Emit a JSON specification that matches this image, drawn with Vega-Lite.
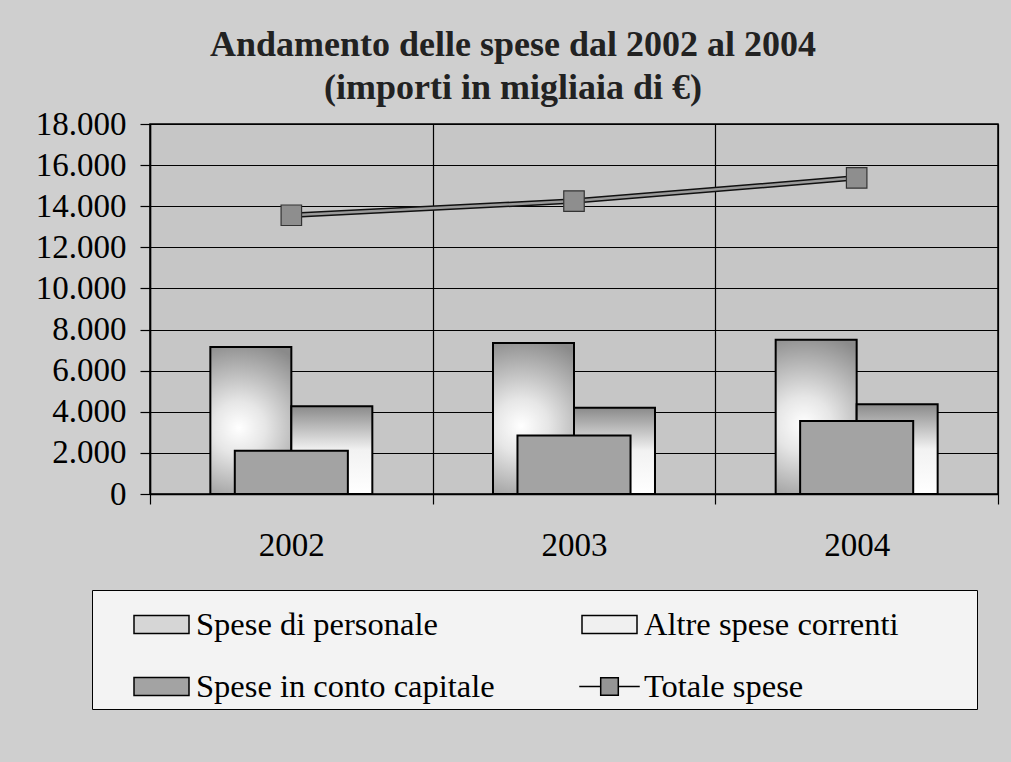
{
  "$schema": "https://vega.github.io/schema/vega-lite/v6.json",
  "autosize": {"type": "none"},
  "width": 848,
  "height": 370,
  "padding": {"left": 150, "top": 124, "right": 13, "bottom": 268},
  "background": "#cfcfcf",
  "title": {
    "text": ["Andamento delle spese dal 2002 al 2004", "(importi in migliaia di €)"],
    "font": "Liberation Serif",
    "fontSize": 36,
    "fontWeight": "bold",
    "color": "#222222",
    "anchor": "middle",
    "dx": -61,
    "offset": 1,
    "lineHeight": 43
  },
  "data": {
    "values": [
      {"anno": "2002", "serie": "Spese di personale", "valore": 7150},
      {"anno": "2002", "serie": "Altre spese correnti", "valore": 4270},
      {"anno": "2002", "serie": "Spese in conto capitale", "valore": 2100},
      {"anno": "2002", "serie": "Totale spese", "valore": 13560},
      {"anno": "2003", "serie": "Spese di personale", "valore": 7340},
      {"anno": "2003", "serie": "Altre spese correnti", "valore": 4200},
      {"anno": "2003", "serie": "Spese in conto capitale", "valore": 2850},
      {"anno": "2003", "serie": "Totale spese", "valore": 14250},
      {"anno": "2004", "serie": "Spese di personale", "valore": 7510},
      {"anno": "2004", "serie": "Altre spese correnti", "valore": 4370},
      {"anno": "2004", "serie": "Spese in conto capitale", "valore": 3550},
      {"anno": "2004", "serie": "Totale spese", "valore": 15380}
    ]
  },
  "encoding": {
    "x": {
      "field": "anno",
      "type": "nominal",
      "scale": {"paddingInner": 0, "paddingOuter": 0},
      "axis": {
        "title": null,
        "tickBand": "extent",
        "grid": true,
        "gridColor": "#000000",
        "gridWidth": 1.2,
        "domainColor": "#000000",
        "domainWidth": 1.5,
        "tickColor": "#000000",
        "tickSize": 10,
        "tickWidth": 1.2,
        "labelFont": "Liberation Serif",
        "labelFontSize": 33,
        "labelColor": "#000000",
        "labelPadding": 25,
        "labelAngle": 0
      }
    },
    "y": {
      "field": "valore",
      "type": "quantitative",
      "scale": {"domain": [0, 18000], "nice": false},
      "axis": {
        "title": null,
        "values": [0, 2000, 4000, 6000, 8000, 10000, 12000, 14000, 16000, 18000],
        "labelExpr": "replace(format(datum.value, ',d'), ',', '.')",
        "grid": true,
        "gridColor": "#000000",
        "gridWidth": 1.2,
        "domainColor": "#000000",
        "domainWidth": 1.5,
        "tickColor": "#000000",
        "tickSize": 10,
        "tickWidth": 1.2,
        "labelFont": "Liberation Serif",
        "labelFontSize": 33,
        "labelColor": "#000000",
        "labelPadding": 14
      }
    }
  },
  "layer": [
    {
      "transform": [{"filter": "datum.serie === 'Spese di personale'"}],
      "mark": {
        "type": "bar",
        "color": {
          "gradient": "radial",
          "x1": 0.42, "y1": 0.55, "x2": 0.42, "y2": 0.55,
          "r1": 0, "r2": 0.6,
          "stops": [
            {"offset": 0, "color": "#ffffff"},
            {"offset": 0.3, "color": "#e6e6e6"},
            {"offset": 1, "color": "#8a8a8a"}
          ]
        },
        "stroke": "#000000",
        "strokeWidth": 2
      },
      "encoding": {
        "xOffset": {
          "field": "serie",
          "type": "nominal",
          "scale": {"domain": ["Spese di personale", "Altre spese correnti"], "paddingInner": 0, "paddingOuter": 0.745}
        }
      }
    },
    {
      "transform": [{"filter": "datum.serie === 'Altre spese correnti'"}],
      "mark": {
        "type": "bar",
        "color": {
          "gradient": "linear",
          "x1": 0, "y1": 0, "x2": 0, "y2": 1,
          "stops": [
            {"offset": 0, "color": "#8a8a8a"},
            {"offset": 0.5, "color": "#f2f2f2"},
            {"offset": 1, "color": "#ffffff"}
          ]
        },
        "stroke": "#000000",
        "strokeWidth": 2
      },
      "encoding": {
        "xOffset": {
          "field": "serie",
          "type": "nominal",
          "scale": {"domain": ["Spese di personale", "Altre spese correnti"], "paddingInner": 0, "paddingOuter": 0.745}
        }
      }
    },
    {
      "transform": [{"filter": "datum.serie === 'Spese in conto capitale'"}],
      "mark": {"type": "bar", "width": {"band": 0.4}, "stroke": "#000000", "strokeWidth": 2},
      "encoding": {
        "color": {
          "field": "serie",
          "type": "nominal",
          "scale": {
            "domain": ["Spese di personale", "Altre spese correnti", "Spese in conto capitale", "Totale spese"],
            "range": ["#d6d6d6", "#f0f0f0", "#a3a3a3", "#959595"]
          },
          "legend": {
            "orient": "none",
            "legendX": -58,
            "legendY": 466,
            "direction": "horizontal",
            "columns": 2,
            "title": " ",
            "titleOrient": "right",
            "titlePadding": 73,
            "titleFontSize": 10,
            "gridAlign": "all",
            "columnPadding": 51,
            "rowPadding": 17,
            "padding": 6,
            "symbolOffset": 35,
            "labelOffset": 6,
            "labelFont": "Liberation Serif",
            "labelFontSize": 32.5,
            "labelColor": "#000000",
            "labelLimit": 500,
            "symbolSize": 3025,
            "fillColor": "#f3f3f3",
            "strokeColor": "#000000",
            "encode": {
              "symbols": {
                "update": {
                  "fill": {"scale": "color", "field": "value"},
                  "stroke": {"value": "#111111"},
                  "strokeWidth": {"value": 1.5},
                  "opacity": {"value": 1}
                }
              }
            }
          }
        }
      }
    },
    {
      "transform": [{"filter": "datum.serie === 'Totale spese'"}],
      "mark": {"type": "line", "color": "#111111", "strokeWidth": 5.5},
      "encoding": {}
    },
    {
      "transform": [{"filter": "datum.serie === 'Totale spese'"}],
      "mark": {"type": "line", "color": "#9a9a9a", "strokeWidth": 2.5},
      "encoding": {}
    },
    {
      "transform": [{"filter": "datum.serie === 'Totale spese'"}],
      "mark": {"type": "point", "filled": true, "opacity": 0, "size": 100},
      "encoding": {
        "shape": {
          "field": "serie",
          "type": "nominal",
          "scale": {
            "domain": ["Spese di personale", "Altre spese correnti", "Spese in conto capitale", "Totale spese"],
            "range": [
              "M-1,-0.33H1V0.33H-1Z",
              "M-1,-0.33H1V0.33H-1Z",
              "M-1,-0.33H1V0.33H-1Z",
              "M-1.1,0H-0.32M0.32,0H1.1M-0.32,-0.32H0.32V0.32H-0.32Z"
            ]
          },
          "legend": {
            "orient": "none",
            "legendX": -58,
            "legendY": 466,
            "direction": "horizontal",
            "columns": 2,
            "title": " ",
            "titleOrient": "right",
            "titlePadding": 73,
            "titleFontSize": 10,
            "gridAlign": "all",
            "columnPadding": 51,
            "rowPadding": 17,
            "padding": 6,
            "symbolOffset": 35,
            "labelOffset": 6,
            "labelFont": "Liberation Serif",
            "labelFontSize": 32.5,
            "labelColor": "#000000",
            "labelLimit": 500,
            "symbolSize": 3025,
            "fillColor": "#f3f3f3",
            "strokeColor": "#000000",
            "encode": {
              "symbols": {
                "update": {
                  "fill": {"scale": "color", "field": "value"},
                  "stroke": {"value": "#111111"},
                  "strokeWidth": {"value": 1.5},
                  "opacity": {"value": 1}
                }
              }
            }
          }
        }
      }
    },
    {
      "transform": [{"filter": "datum.serie === 'Totale spese'"}],
      "mark": {"type": "point", "shape": "square", "filled": true, "size": 420, "color": "#8e8e8e", "stroke": "#333333", "strokeWidth": 1.2, "opacity": 1},
      "encoding": {}
    }
  ],
  "config": {
    "view": {"stroke": "#000000", "strokeWidth": 1.5, "fill": "#c6c6c6"},
    "font": "Liberation Serif"
  }
}
